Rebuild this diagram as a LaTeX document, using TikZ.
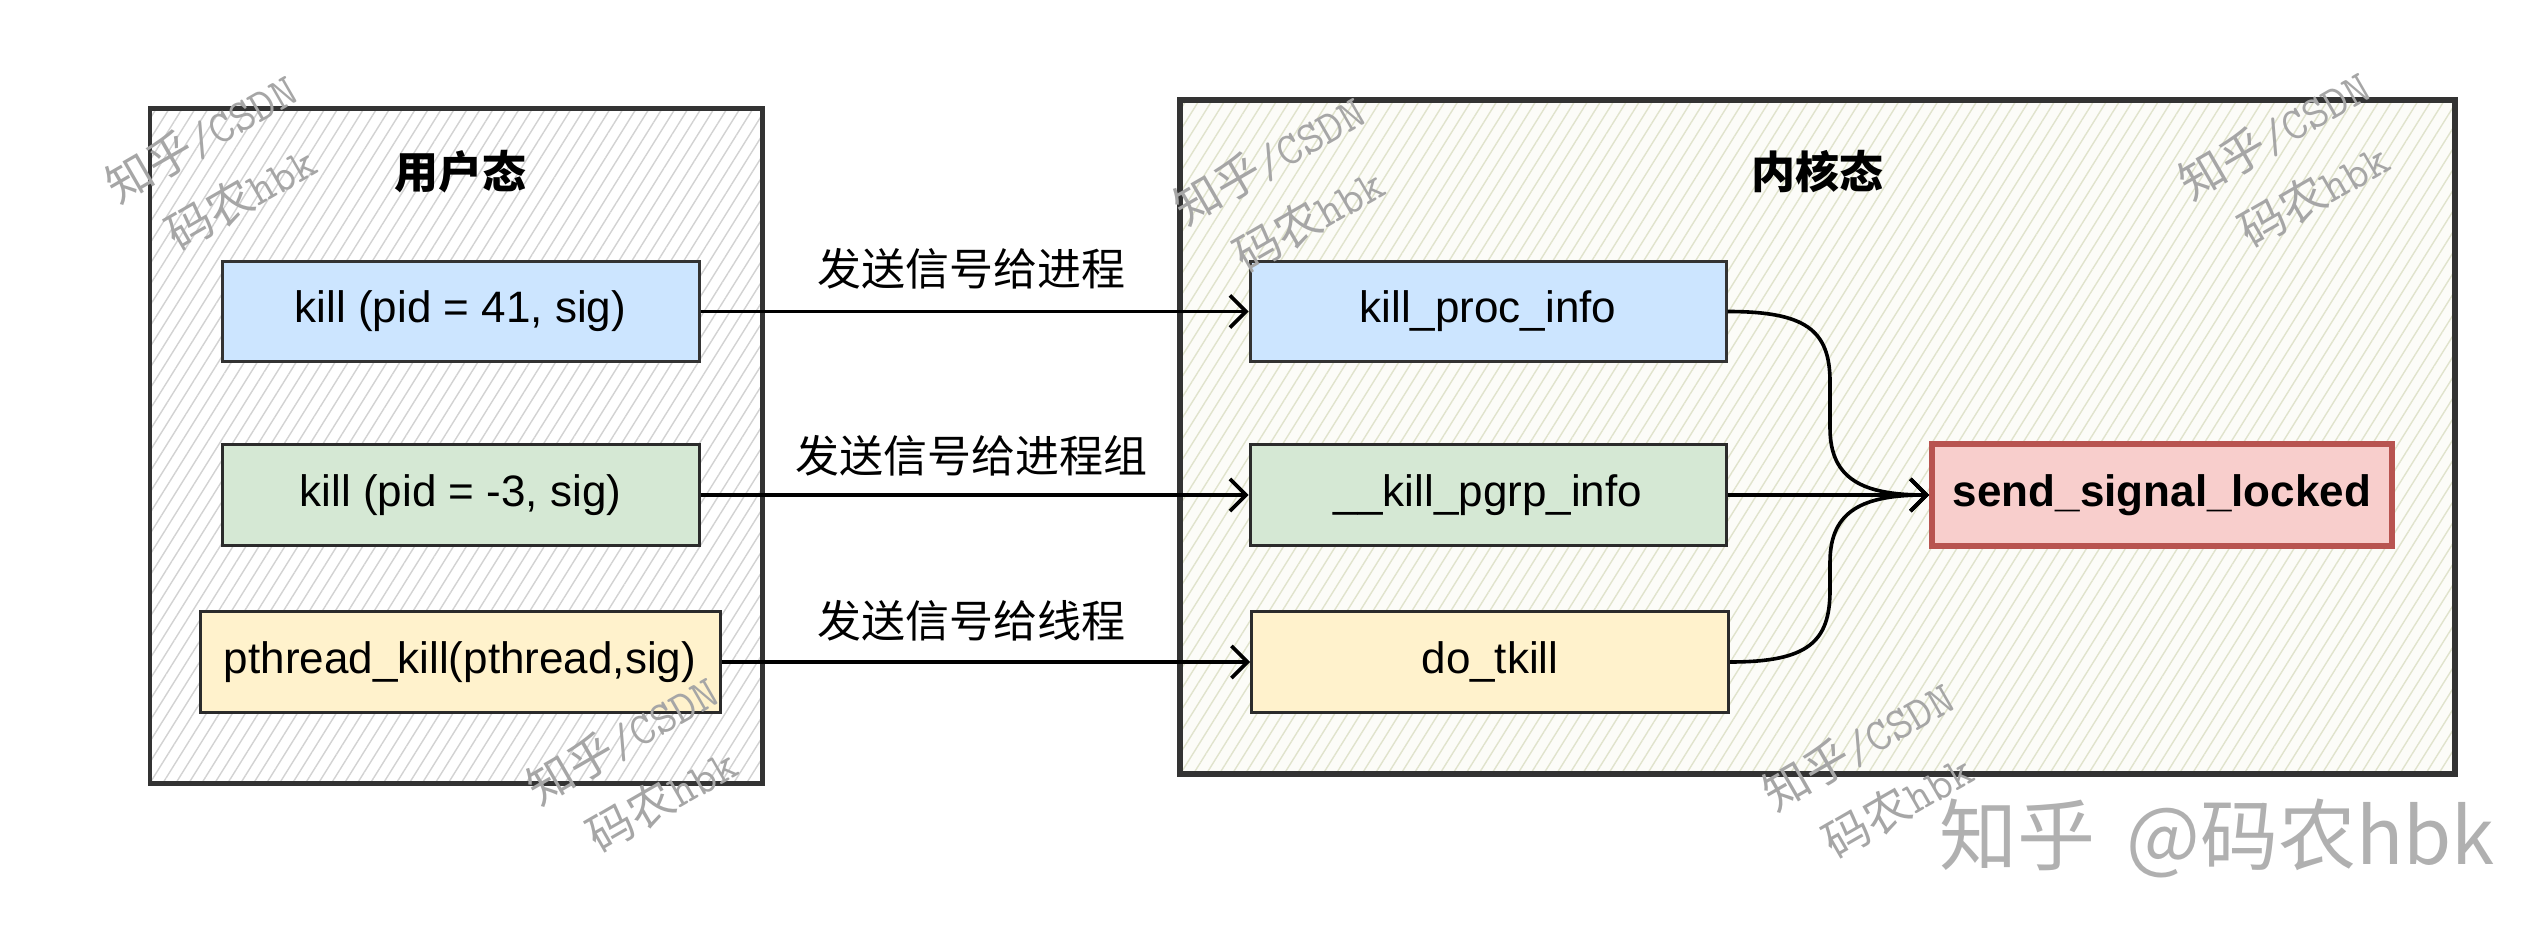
\documentclass[tikz,border=0pt]{standalone}
\usepackage{fontspec}
\setmainfont{Liberation Sans}
\newfontfamily\cjk{Noto Sans CJK SC}
\usetikzlibrary{arrows.meta,patterns.meta}
\definecolor{bluef}{HTML}{CCE5FF}
\definecolor{greenf}{HTML}{D5E8D4}
\definecolor{yellowf}{HTML}{FFF2CC}
\definecolor{redf}{HTML}{F8CECC}
\definecolor{redd}{HTML}{B85450}
\definecolor{edge}{HTML}{2B2B2B}
\definecolor{contedge}{HTML}{333333}
\definecolor{hatchl}{HTML}{D2D2D2}
\definecolor{hatchr}{HTML}{E0E3CC}
\definecolor{rbg}{HTML}{FCFCF8}
\definecolor{wmgray}{HTML}{A6A6A6}
\definecolor{wmbig}{HTML}{B0B0B0}
\begin{document}
\begin{tikzpicture}[x=0.5pt,y=-0.5pt,
  cont/.style={draw=contedge,line width=1.8pt,inner sep=0pt},
  box/.style={draw=edge,line width=1.5pt,inner sep=0pt,font=\fontsize{22}{26}\selectfont},
  title/.style={font=\cjk\bfseries\fontsize{22}{26}\selectfont},
  lbl/.style={font=\cjk\fontsize{22}{26}\selectfont},
  arr/.style={draw=black,line width=1.8pt,-{Straight Barb[length=8pt,width=16pt]}},
  wm/.style={text=wmgray,rotate=30,align=left,font=\fontsize{23}{36}\selectfont,inner sep=0pt}
]
\useasboundingbox (0,0) rectangle (2548,940);

% containers
\node[cont,minimum width=306pt,minimum height=337pt,
      preaction={fill=white},
      pattern={Lines[angle=58,distance=5.5pt,line width=0.7pt]},pattern color=hatchl] (user) at (456,446) {};
\node[cont,minimum width=636.5pt,minimum height=336pt,
      preaction={fill=rbg},
      pattern={Lines[angle=58,distance=5.5pt,line width=0.7pt]},pattern color=hatchr] (kern) at (1817.5,437) {};
\draw[cont] (user.north west) rectangle (user.south east);
\draw[cont] (kern.north west) rectangle (kern.south east);

\node[title] (ut) at (460,172) {用户态};
\node[title] (kt) at (1817,172) {内核态};

% left boxes
\node[box,fill=bluef,draw=contedge,minimum width=238.5pt,minimum height=50pt] (lb1) at (460.5,311.5) {kill (pid = 41, sig)};
\node[box,fill=greenf,minimum width=238.5pt,minimum height=50.5pt] (lb2) at (460.5,495) {kill (pid = -3, sig)};
\node[box,fill=yellowf,minimum width=260pt,minimum height=50.5pt] (lb3) at (460,662) {pthread\_kill(pthread,sig)};

% right boxes
\node[box,fill=bluef,draw=contedge,minimum width=238pt,minimum height=50pt] (rb1) at (1488,311.5) {kill\_proc\_info};
\node[box,fill=greenf,minimum width=238pt,minimum height=50.5pt] (rb2) at (1488,495) {\_\_kill\_pgrp\_info};
\node[box,fill=yellowf,minimum width=238.5pt,minimum height=50.5pt] (rb3) at (1490,662) {do\_tkill};

\node[box,fill=redf,draw=redd,line width=3pt,minimum width=230pt,minimum height=51pt,
      font=\bfseries\fontsize{22}{26}\selectfont] (send) at (2162,495) {send\_signal\_locked};

% labels
\node[lbl] (l1) at (971,269) {发送信号给进程};
\node[lbl] (l2) at (971,456) {发送信号给进程组};
\node[lbl] (l3) at (971,621) {发送信号给线程};

% arrows
\draw[arr] (lb1.east) -- (rb1.west);
\draw[arr] (lb2.east) -- (rb2.west);
\draw[arr] (lb3.east) -- (rb3.west);

\coordinate (c1a) at (1830,382);
\coordinate (c1b) at (1830,428);
\coordinate (c3a) at (1830,590);
\coordinate (c3b) at (1830,562);
\draw[arr] (rb1.east) .. controls +(78,0) and +(0,-52) .. (c1a) -- (c1b)
           .. controls +(0,52) and +(-65,0) .. (send.west);
\draw[arr] (rb2.east) -- (send.west);
\draw[arr] (rb3.east) .. controls +(78,0) and +(0,52) .. (c3a) -- (c3b)
           .. controls +(0,-52) and +(-65,0) .. (send.west);

% watermarks
\node[wm] (w1) at (219,168) {{\cjk 知乎}{\ttfamily /CSDN}\\\hspace{14pt}{\cjk 码农}{\ttfamily hbk}};
\node[wm] (w2) at (1287,190) {{\cjk 知乎}{\ttfamily /CSDN}\\\hspace{14pt}{\cjk 码农}{\ttfamily hbk}};
\node[wm] (w3) at (2292,165) {{\cjk 知乎}{\ttfamily /CSDN}\\\hspace{14pt}{\cjk 码农}{\ttfamily hbk}};
\node[wm] (w4) at (640,770) {{\cjk 知乎}{\ttfamily /CSDN}\\\hspace{14pt}{\cjk 码农}{\ttfamily hbk}};
\node[wm] (w5) at (1876,776) {{\cjk 知乎}{\ttfamily /CSDN}\\\hspace{14pt}{\cjk 码农}{\ttfamily hbk}};
\node[text=wmbig,font=\cjk\fontsize{39}{44}\selectfont,inner sep=0pt] (wbig) at (2217,838) {知乎\hspace{0.4em}@码农hbk};
\end{tikzpicture}
\end{document}
